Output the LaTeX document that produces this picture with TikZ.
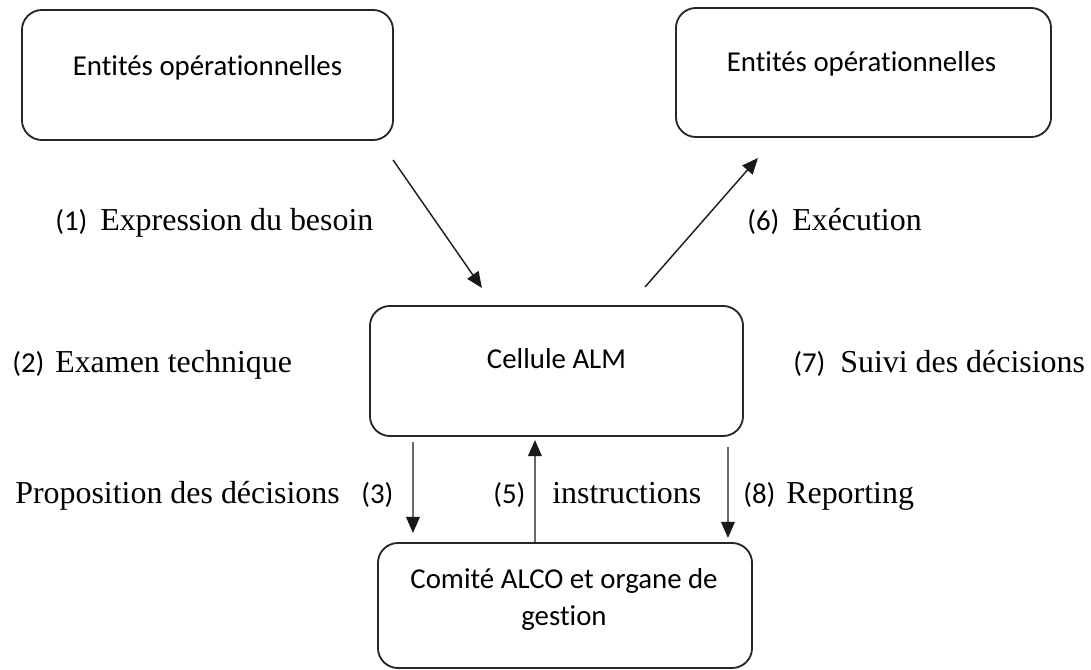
\documentclass[tikz,border=0pt]{standalone}
\usepackage{fontspec}
\setmainfont{Liberation Serif}
\newfontfamily\boxfont[Ligatures=NoCommon]{Carlito}
\usetikzlibrary{arrows.meta,calc}

\begin{document}
\begin{tikzpicture}[x=0.025cm, y=-0.025cm,
  box/.style={draw=black!85, line width=1.3pt, rounded corners=0.5cm,
    inner sep=0pt, outer sep=0pt},
  boxtext/.style={inner sep=0pt, anchor=base, font=\boxfont\fontsize{20.5}{26.3}\selectfont,
    align=center},
  num/.style={inner sep=0pt, anchor=base west, font=\boxfont\fontsize{20.5}{25}\selectfont},
  lab/.style={inner sep=0pt, anchor=base west, font=\fontsize{22.7}{27}\selectfont},
  arr/.style={line width=1pt, draw=black!90,
    -{Triangle[length=0.4cm,width=0.34cm]}}]
\useasboundingbox (0,0) rectangle (1091,670);

% boxes
\node[box, minimum width=9.275cm, minimum height=3.25cm] (A) at (207.5,75) {};
\node[box, minimum width=9.375cm, minimum height=3.225cm] (B) at (863.5,72.5) {};
\node[box, minimum width=9.325cm, minimum height=3.25cm] (C) at (556.5,371) {};
\node[box, minimum width=9.35cm, minimum height=3.125cm] (D) at (565,605.5) {};

% box captions
\node[boxtext] (At) at (207.5,75) {Entités opérationnelles};
\node[boxtext] (Bt) at (861.5,71) {Entités opérationnelles};
\node[boxtext] (Ct) at (556.5,368) {Cellule ALM};
\node[boxtext] (Dt) at (564,625) {Comité ALCO et organe de\\gestion};

% connectors
\draw[arr] ($(A.south east)+(0,20)$) -- ($(C.north west)+(112,-18)$);
\draw[arr] ($(C.north east)+(-98,-19)$) -- ($(B.south west)+(82,21)$);
\draw[arr] ($(C.south west)+(43,6)$) -- ($(D.north west)+(35,-10)$);
\draw[arr] ($(D.north west)+(157,0)$) -- ($(C.south west)+(165,4)$);
\draw[arr] ($(C.south west)+(358,11)$) -- ($(D.north west)+(350,-5)$);

% step labels
\node[num] (n1) at (55,230) {(1)};
\node[lab] (t1) at (100,230) {Expression du besoin};
\node[num] (n6) at (747,230) {(6)};
\node[lab] (t6) at (792,230) {Exécution};
\node[num] (n2) at (12,372) {(2)};
\node[lab] (t2) at (55,372) {Examen technique};
\node[num] (n7) at (793,372) {(7)};
\node[lab] (t7) at (840,372) {Suivi des décisions};
\node[lab] (t3) at (15,503) {Proposition des décisions};
\node[num] (n3) at (361,503) {(3)};
\node[num] (n5) at (493,503) {(5)};
\node[lab] (t5) at (552,503) {instructions};
\node[num] (n8) at (743,503) {(8)};
\node[lab] (t8) at (786,503) {Reporting};
\end{tikzpicture}
\end{document}
